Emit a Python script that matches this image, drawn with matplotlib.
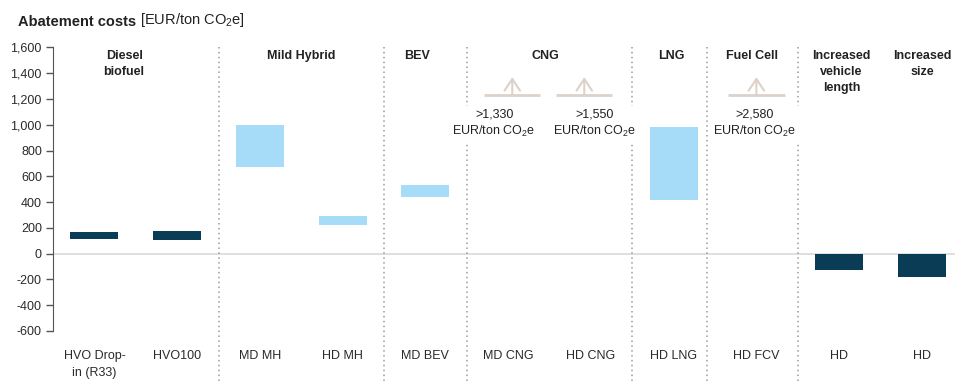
import numpy as np
from matplotlib import pyplot as plt

plt.rcParams['font.family'] = ['Liberation Sans', 'DejaVu Sans']
plt.rcParams['mathtext.fontset'] = 'custom'
plt.rcParams['mathtext.rm'] = 'Liberation Sans'
plt.rcParams['mathtext.it'] = 'Liberation Sans'

# Data:
categories = ['HVO Drop-\nin (R33)', 'HVO100', 'MD MH', 'HD MH', 'MD BEV', 'MD CNG', 'HD CNG',
              'HD LNG', 'HD FCV', 'HD', 'HD']
low = [115, 105, 675, 220, 440, np.nan, np.nan, 420, np.nan, -125, -180]
high = [170, 175, 1000, 290, 535, np.nan, np.nan, 980, np.nan, 0, 0]
dark = [True, True, False, False, False, False, False, False, False, True, True]
groups = ['Diesel\nbiofuel', 'Mild Hybrid', 'BEV', 'CNG', 'LNG', 'Fuel Cell',
          'Increased\nvehicle\nlength', 'Increased\nsize']
group_pos = [0.36, 2.5, 3.9, 5.45, 6.97, 7.95, 9.03, 10.0]
separators = [1.5, 3.5, 4.5, 6.5, 7.4, 8.5]
off_chart = ['>1,330', '>1,550', '>2,580']
off_arrow_x = [5.05, 5.92, 8.0]
off_text_x = [4.83, 6.04, 7.98]

DARK = '#0a3d55'
LIGHT = '#a7dcf8'
ARROW = '#dcd2ca'
CO2 = r'CO$_{\mathrm{2}}$e'

fig = plt.figure(figsize=(9.55, 3.83), dpi=100)
ax = fig.add_axes([0.0555, 0.136, 0.9445, 0.740])

# Floating range bars:
x = np.arange(len(categories))
for i in range(len(categories)):
    if np.isnan(low[i]):
        continue
    ax.bar(x[i], high[i] - low[i], bottom=low[i], width=0.58,
           color=DARK if dark[i] else LIGHT, edgecolor='none', zorder=3)

# Zero line:
ax.axhline(0, color='#d9d9d9', lw=1.2, zorder=1)

# Group separators (run down into the label area):
for s in separators:
    ax.plot([s, s], [1600, -1400], color='#9a9a9a', lw=1.1, linestyle=(0, (1, 2.2)),
            clip_on=False, zorder=1)

# Group headers:
for g, gx in zip(groups, group_pos):
    ax.text(gx, 1578, g, ha='center', va='top', weight='bold', fontsize=9,
            linespacing=1.4, color='#222222', zorder=4)

# Off-chart values (arrows up):
for lab, ax_x, tx in zip(off_chart, off_arrow_x, off_text_x):
    ax.plot([ax_x - 0.34, ax_x + 0.34], [1233, 1233], color=ARROW, lw=2, zorder=2,
            solid_capstyle='butt')
    ax.annotate('', xy=(ax_x, 1370), xytext=(ax_x, 1233),
                arrowprops=dict(arrowstyle='->,head_length=0.6,head_width=0.4',
                                mutation_scale=14, color=ARROW, lw=1.5,
                                shrinkA=0, shrinkB=0), zorder=2)
    ax.text(tx, 1008, lab + '\nEUR/ton ' + CO2, ha='center', va='center', fontsize=9,
            linespacing=1.35, color='#222222', zorder=4,
            bbox=dict(facecolor='white', edgecolor='none', pad=2.5))

# Axes styling:
ax.set_xlim(-0.5, 10.4)
ax.set_ylim(-600, 1600)
ax.set_yticks(np.arange(-600, 1601, 200))
ax.set_yticklabels(['{:,}'.format(v) for v in range(-600, 1601, 200)])
ax.set_xticks(x)
ax.set_xticklabels(categories)
for t in ax.get_xticklabels():
    t.set_linespacing(1.55)
    t.set_verticalalignment('top')
ax.tick_params(axis='x', length=0, pad=14, labelsize=9, labelcolor='#2a2a2a')
ax.tick_params(axis='y', length=5, width=1, color='#555555', labelsize=9,
               labelcolor='#2a2a2a', pad=3)
for sp in ['top', 'right', 'bottom']:
    ax.spines[sp].set_visible(False)
ax.spines['left'].set_color('#555555')

# Title:
t1 = fig.text(0.019, 0.943, 'Abatement costs', weight='bold', fontsize=10.5,
              ha='left', va='center', color='#222222')
ax.annotate(' [EUR/ton ' + CO2 + ']', xy=(1, 0), xycoords=t1, ha='left', va='bottom',
            fontsize=10.5, color='#222222', annotation_clip=False)

plt.savefig('out.png', dpi=100)
plt.close(fig)
